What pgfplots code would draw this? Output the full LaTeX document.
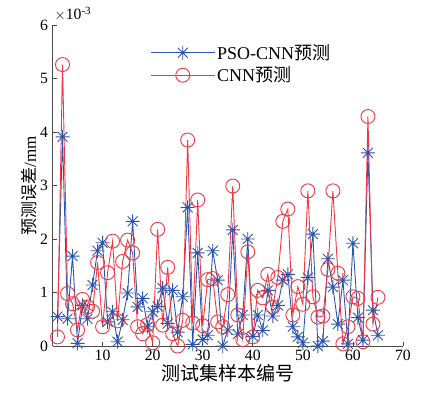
\documentclass[border=0pt]{standalone}
\usepackage{pgfplots}
\pgfplotsset{compat=1.18}
\usepackage{fontspec}
\setmainfont{Liberation Serif}
\newfontfamily\cjk{Noto Sans CJK SC}
\definecolor{mblue}{RGB}{45,85,175}
\definecolor{mred}{RGB}{240,55,65}
\pgfdeclareplotmark{mstar}{%
 \pgfpathmoveto{\pgfqpoint{-\pgfplotmarksize}{0pt}}\pgfpathlineto{\pgfqpoint{\pgfplotmarksize}{0pt}}%
 \pgfpathmoveto{\pgfqpoint{0pt}{-\pgfplotmarksize}}\pgfpathlineto{\pgfqpoint{0pt}{\pgfplotmarksize}}%
 \pgfpathmoveto{\pgfqpoint{-0.707\pgfplotmarksize}{-0.707\pgfplotmarksize}}\pgfpathlineto{\pgfqpoint{0.707\pgfplotmarksize}{0.707\pgfplotmarksize}}%
 \pgfpathmoveto{\pgfqpoint{-0.707\pgfplotmarksize}{0.707\pgfplotmarksize}}\pgfpathlineto{\pgfqpoint{0.707\pgfplotmarksize}{-0.707\pgfplotmarksize}}%
 \pgfusepathqstroke}
\pgfplotstableread{
x y
1 0.55
2 3.91
3 0.51
4 1.68
5 0.05
6 0.76
7 0.51
8 1.14
9 1.78
10 1.93
11 0.45
12 0.64
13 0.08
14 0.49
15 0.99
16 2.33
17 0.73
18 0.89
19 0.36
20 0.64
21 0.74
22 1.08
23 0.42
24 1.04
25 0.26
26 0.92
27 2.59
28 0.03
29 1.74
30 0.12
31 0.20
32 1.78
33 1.23
34 0.00
35 0.30
36 2.17
37 0.22
38 0.58
39 2.00
40 0.18
41 0.58
42 0.29
43 1.04
44 0.56
45 0.76
46 1.23
47 1.34
48 0.36
49 0.17
50 0.06
51 1.28
52 2.09
53 0.00
54 0.09
55 1.63
56 1.10
57 0.41
58 1.23
59 0.04
60 1.92
61 0.53
62 0.11
63 3.61
64 0.67
65 0.20
}\psocnn
\pgfplotstableread{
x y
1 0.17
2 5.26
3 0.98
4 0.79
5 0.30
6 0.87
7 0.73
8 0.65
9 1.56
10 0.36
11 1.37
12 1.96
13 0.47
14 1.58
15 1.98
16 1.74
17 0.36
18 0.23
19 0.40
20 0.06
21 2.18
22 0.39
23 1.47
24 0.23
25 0.00
26 0.48
27 3.85
28 0.43
29 2.73
30 0.38
31 1.24
32 1.26
33 0.45
34 0.36
35 0.96
36 2.99
37 0.58
38 0.12
39 1.76
40 0.17
41 1.04
42 0.90
43 1.34
44 0.73
45 1.28
46 2.33
47 2.56
48 0.58
49 1.11
50 0.78
51 2.90
52 0.92
53 0.54
54 0.56
55 1.43
56 2.90
57 1.36
58 0.04
59 0.36
60 0.92
61 0.89
62 0.08
63 4.29
64 0.41
65 0.91
}\cnn
\begin{document}
\begin{tikzpicture}
\useasboundingbox (0,0) rectangle (422bp,395bp);
\begin{axis}[
  at={(52.5bp,49bp)}, anchor=south west,
  scale only axis, width=350.5bp, height=321bp,
  xmin=0, xmax=70, ymin=0, ymax=6,
  xtick={10,20,...,70}, ytick={0,1,...,6},
  axis x line*=bottom, axis y line*=left,
  axis line style={draw=black!70, line width=0.6pt, -},
  tick align=inside, major tick length=4bp,
  tick style={draw=black!70, line width=0.6pt},
  /pgf/number format/assume math mode=true,
  tick label style={font=\fontsize{15.7bp}{17bp}\selectfont},
  xticklabel style={yshift=-1bp},
  yticklabel style={xshift=-1bp},
  xlabel={\cjk 测试集样本编号},
  ylabel={{\cjk 预测误差}/mm},
  xlabel style={font=\fontsize{19bp}{21bp}\selectfont, yshift=4bp},
  ylabel style={font=\fontsize{17bp}{19bp}\selectfont, yshift=-4bp},
  legend cell align=left,
  legend style={at={(rel axis cs:0.27,0.952)}, anchor=north west, draw=none, fill=none,
    font=\fontsize{18bp}{20bp}\selectfont, row sep=2bp},
  legend image code/.code={\draw[#1, mark repeat=2, mark phase=2] plot coordinates {(0bp,0bp) (32bp,0bp) (64bp,0bp)};},
  clip=false,
]
\addplot[color=mblue, line width=0.9pt, mark=mstar, mark size=7bp, mark options={line width=0.9pt}] table {\psocnn};
\addlegendentry{PSO-CNN{\cjk 预测}}
\addplot[color=mred, line width=0.9pt, mark=o, mark size=7bp, mark options={line width=0.9pt}] table {\cnn};
\addlegendentry{CNN{\cjk 预测}}
\node[anchor=south west, inner sep=0pt, font=\fontsize{15.7bp}{17bp}\selectfont] at ([xshift=2bp,yshift=4bp]rel axis cs:0,1) {$\times$10\textsuperscript{-3}};
\end{axis}
\end{tikzpicture}
\end{document}
